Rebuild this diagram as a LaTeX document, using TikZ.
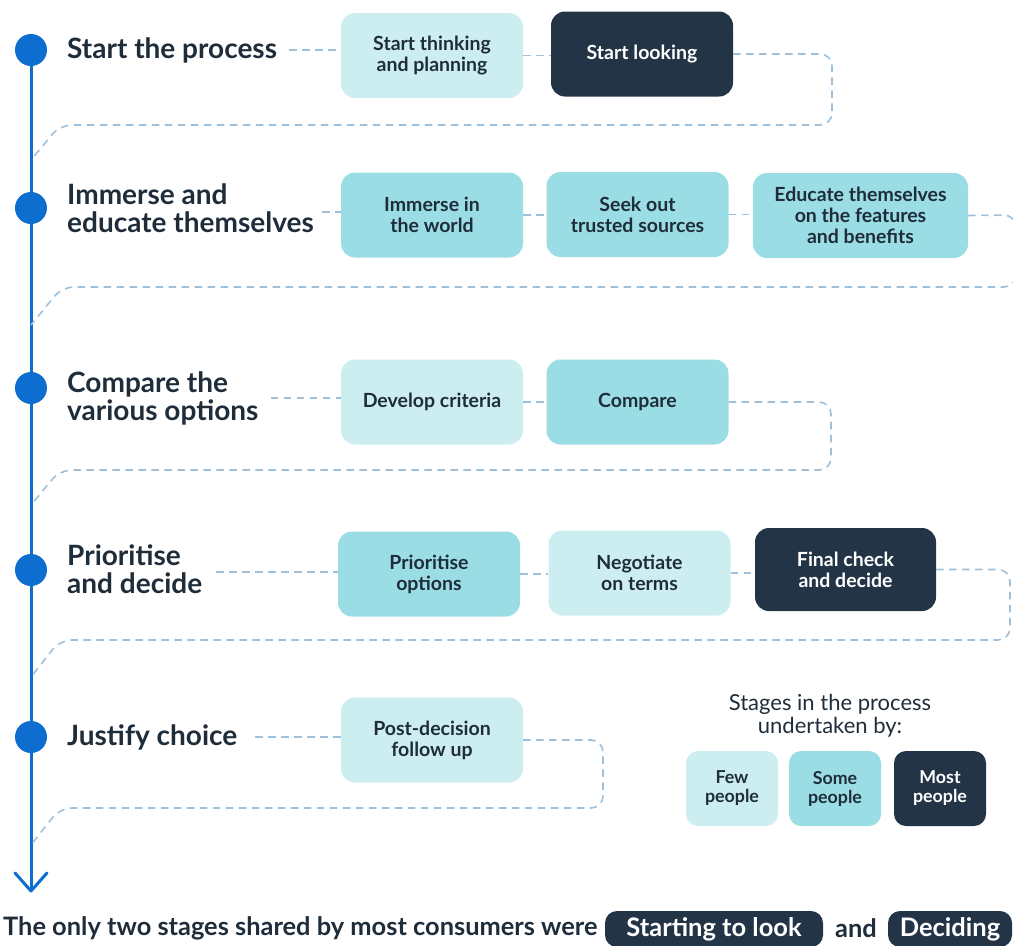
\documentclass[tikz,border=0pt]{standalone}
\usepackage{fontspec}
\setmainfont{Lato}
\definecolor{lightc}{HTML}{CDEEF1}
\definecolor{medc}{HTML}{9BDDE4}
\definecolor{darkc}{HTML}{223446}
\definecolor{txt}{HTML}{1F2D3B}
\definecolor{blueln}{HTML}{0D6ED0}
\definecolor{dashc}{HTML}{9FC0DA}
\begin{document}
\begin{tikzpicture}[x=1pt,y=-1pt,
 box/.style={rounded corners=14pt, minimum width=182pt, minimum height=85pt, align=center,
   font=\fontsize{19.5}{21}\selectfont\bfseries, inner sep=2pt},
 light/.style={box, fill=lightc, text=txt},
 med/.style={box, fill=medc, text=txt},
 dark/.style={box, fill=darkc, text=white},
 legbox/.style={rounded corners=12pt, minimum width=92pt, minimum height=75pt, align=center,
   font=\fontsize{17.8}{19}\selectfont\bfseries, inner sep=1pt},
 stage/.style={anchor=west, align=left, text=txt, font=\fontsize{28}{28}\selectfont\bfseries, inner sep=0pt},
 dot/.style={circle, fill=blueln, minimum size=32pt, inner sep=0pt},
 conn/.style={draw=dashc, line width=1.6pt, dash pattern=on 7.5pt off 5.5pt},
 loopline/.style={conn, rounded corners=12pt},
 pill/.style={rounded corners=12pt, fill=darkc, text=white, minimum height=36pt,
   font=\fontsize{25.5}{26}\selectfont\bfseries, inner sep=0pt},
]
\useasboundingbox (0,0) rectangle (1013,946);
\clip (0,0) rectangle (1013,946);

% main timeline
\coordinate (top) at (31,50);
\coordinate (tip) at (31,891);
\draw[blueln, line width=3pt] (top) -- (tip);
\draw[blueln, line width=3pt, line cap=round, line join=round]
  ([shift={(-16,-18)}]tip) -- (tip) -- ([shift={(16,-18)}]tip);
\node[dot] (d1) at (31,50) {};
\node[dot] (d2) at (31,208) {};
\node[dot] (d3) at (31,388) {};
\node[dot] (d4) at (31,570) {};
\node[dot] (d5) at (31,737) {};

\coordinate (j1) at (31,160);
\coordinate (j2) at (31,325);
\coordinate (j3) at (31,505);
\coordinate (j4) at (31,677);
\coordinate (j5) at (31,845);

% stage labels
\node[stage] (s1) at (67,50) {Start the process};
\node[stage] (s2) at (67,208) {Immerse and\\educate themselves};
\node[stage] (s3) at (67,398) {Compare the\\various options};
\node[stage] (s4) at (67,569) {Prioritise\\and decide};
\node[stage] (s5) at (67,737) {Justify choice};

% boxes
\node[light] (r1a) at (432,55.5) {Start thinking\\and planning};
\node[dark]  (r1b) at (642,54) {Start looking};

\node[med] (r2a) at (432,215) {Immerse in\\the world};
\node[med] (r2b) at (637.5,214.5) {Seek out\\trusted sources};
\node[med, minimum width=215pt] (r2c) at (860.5,215.5) {Educate themselves\\on the features\\and benefits};

\node[light] (r3a) at (432,402) {Develop criteria};
\node[med]   (r3b) at (637.5,402) {Compare};

\node[med]   (r4a) at (429,574) {Prioritise\\options};
\node[light] (r4b) at (639.5,573) {Negotiate\\on terms};
\node[dark, minimum width=181pt, minimum height=83pt] (r4c) at (845.5,569.5) {Final check\\and decide};

\node[light] (r5a) at (432,740) {Post-decision\\follow up};

% connectors row 1
\draw[conn, shorten <=12pt] (s1.east) -- (s1.east -| r1a.west);
\draw[conn] (r1a.east) -- (r1a.east -| r1b.west);
\draw[loopline] (r1b.east) -- (832,54) -- (832,125) -- (60,125) -- (j1);

% row 2
\draw[conn, shorten <=8pt] (s2.east) ++(0,4) -- (r2a.west |- 0,212);
\draw[conn] (r2a.east) -- (r2a.east -| r2b.west);
\draw[conn] (r2b.east) -- (r2b.east -| r2c.west);
\draw[loopline] (r2c.east) -- (1016,215) -- (1016,287) -- (62,287) -- (j2);

% row 3
\draw[conn, shorten <=12pt] (s3.east) -- (s3.east -| r3a.west);
\draw[conn] (r3a.east) -- (r3a.east -| r3b.west);
\draw[loopline] (r3b.east) -- (831,402) -- (831,470) -- (60,470) -- (j3);

% row 4
\draw[conn, shorten <=14pt] (s4.east) ++(0,3) -- (r4a.west |- 0,572);
\draw[conn] (r4a.east) -- (r4a.east -| r4b.west);
\draw[conn] (r4b.east) -- (r4b.east -| r4c.west);
\draw[loopline] (r4c.east) -- (1010,569.5) -- (1010,640) -- (60,640) -- (j4);

% row 5
\draw[conn, shorten <=18pt] (s5.east) -- (s5.east -| r5a.west);
\draw[loopline] (r5a.east) -- (603,740) -- (603,808) -- (60,808) -- (j5);

% legend
\node[align=center, text=txt, font=\fontsize{22}{23}\selectfont] (legt) at (830,716)
  {Stages in the process\\undertaken by:};
\node[legbox, fill=lightc, text=txt] (lg1) at (732,788.5) {Few\\people};
\node[legbox, fill=medc, text=txt] (lg2) at (835,788.5) {Some\\people};
\node[legbox, fill=darkc, text=white] (lg3) at (940,788.5) {Most\\people};

% bottom sentence
\node[anchor=west, text=txt, font=\fontsize{25.4}{26}\selectfont\bfseries, inner sep=0pt] (bt) at (3,928)
  {The only two stages shared by most consumers were};
\node[pill, minimum width=218pt] (p1) at (714,929) {Starting to look};
\node[text=txt, font=\fontsize{25.4}{26}\selectfont\bfseries, inner sep=0pt] (andt) at (856,928) {and};
\node[pill, minimum width=124pt] (p2) at (950,929) {Deciding};
\end{tikzpicture}
\end{document}
